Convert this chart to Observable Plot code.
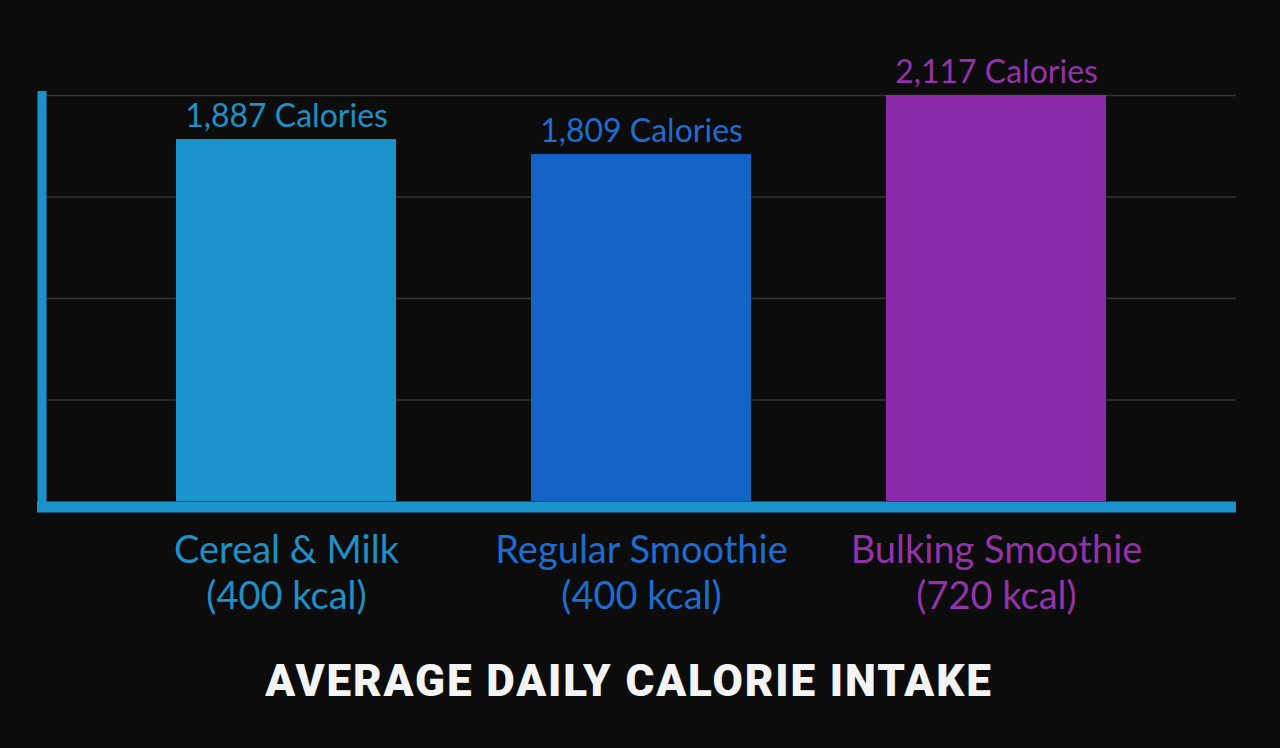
<!DOCTYPE html>
<html>
<head>
<meta charset="utf-8">
<script src="https://cdn.jsdelivr.net/npm/d3@7"></script>
<script src="https://cdn.jsdelivr.net/npm/@observablehq/plot@0.6"></script>
<style>
  html, body { margin: 0; padding: 0; background: #0c0c0c; width: 1280px; height: 748px; overflow: hidden; }
  #chart svg { display: block; }
  #title { text-align: center; color: #f4f4f4; font-family: "Roboto", sans-serif; font-weight: 900; font-size: 44px; letter-spacing: 1.9px; margin-top: 14px; line-height: 54px; position: relative; left: -11px; }
</style>
</head>
<body>
<div id="chart"></div>
<div id="title">AVERAGE DAILY CALORIE INTAKE</div>
<script>
const categories = ["Cereal & Milk", "Regular Smoothie", "Bulking Smoothie"];
const kcal = [400, 400, 720];
const calories = [1887, 1809, 2117];
const barColors = ["#1a93cc", "#1464c8", "#8a2aa8"];
const labelColors = ["#1f90c6", "#1e6cd0", "#9333aa"];
const gridValues = [2117 / 4, 2117 / 2, 2117 * 3 / 4, 2117];

const data = categories.map((name, i) => ({
  name, kcal: kcal[i], value: calories[i], color: barColors[i], label: labelColors[i]
}));
const fmt = d3.format(",");

const chart = Plot.plot({
  width: 1280,
  height: 640,
  marginTop: 95,
  marginBottom: 139,
  marginLeft: 46,
  marginRight: 44,
  style: { background: "transparent", fontFamily: "Lato, sans-serif" },
  x: { domain: categories, paddingInner: 0.381, paddingOuter: 0.362, axis: null },
  y: { domain: [0, 2117], axis: null },
  marks: [
    Plot.ruleY(gridValues, { stroke: "#343434", strokeWidth: 1.5, insetLeft: -9 }),
    Plot.barY(data, { x: "name", y: "value", fill: "color" }),
    Plot.text(data, {
      x: "name", y: "value",
      text: d => `${fmt(d.value)} Calories`,
      fill: "label", fontSize: 32, lineAnchor: "bottom", dy: -13
    }),
    Plot.text(data, {
      x: "name", y: () => 0,
      text: d => `${d.name}\n(${d.kcal} kcal)`,
      fill: "label", fontSize: 38, lineAnchor: "top", dy: 29, lineHeight: 1.21
    }),
    Plot.frame({ anchor: "left", stroke: "#1a93cc", strokeWidth: 9, dx: -4.5 }),
    Plot.ruleY([0], { stroke: "#1a93cc", strokeWidth: 11, dy: 5.5, insetLeft: -9 })
  ]
});
document.getElementById("chart").append(chart);
</script>
</body>
</html>
